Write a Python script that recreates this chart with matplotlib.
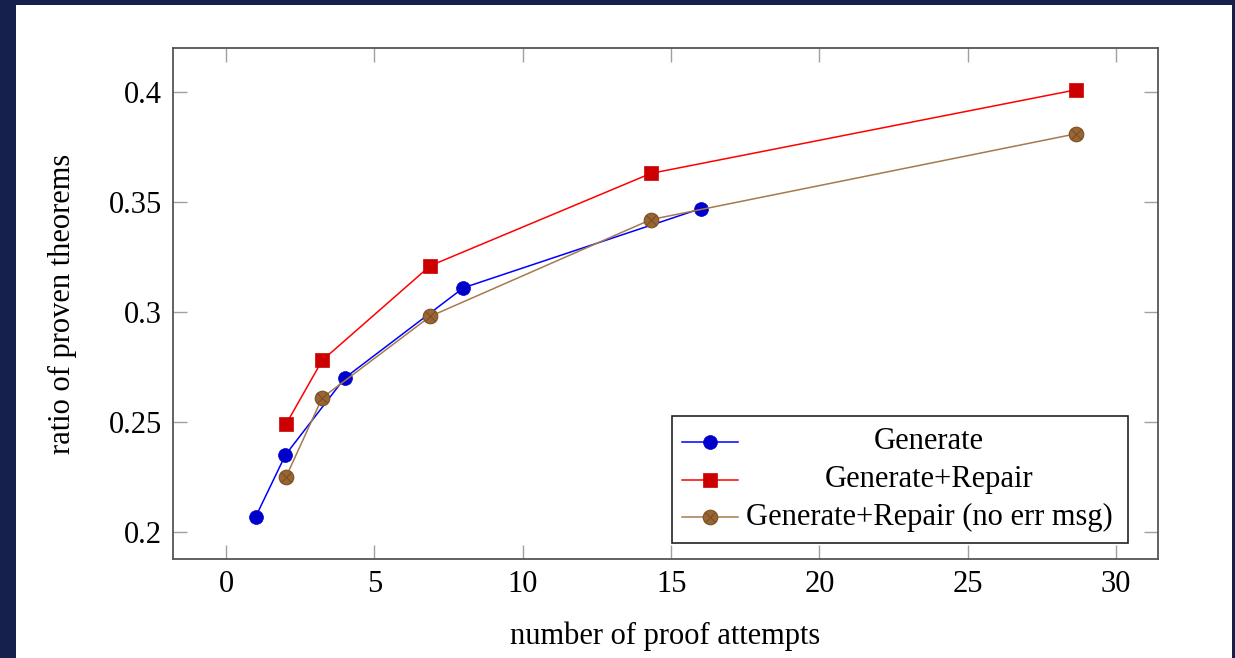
import matplotlib

matplotlib.use("Agg")
import matplotlib.pyplot as plt
from matplotlib.lines import Line2D
from matplotlib.patches import Rectangle
from matplotlib.path import Path

# --- data ---
gen_x = [1, 2, 4, 8, 16]
gen_y = [0.207, 0.235, 0.270, 0.311, 0.347]

rep_x = [2.02, 3.24, 6.88, 14.32, 28.65]
rep_y = [0.249, 0.278, 0.321, 0.363, 0.401]

noerr_x = [2.02, 3.24, 6.88, 14.32, 28.65]
noerr_y = [0.225, 0.261, 0.298, 0.342, 0.381]

labels = ["Generate", "Generate+Repair", "Generate+Repair (no err msg)"]
xticks = [0, 5, 10, 15, 20, 25, 30]
yticks = [0.2, 0.25, 0.3, 0.35, 0.4]
ytick_labels = ["0.2", "0.25", "0.3", "0.35", "0.4"]

plt.rcParams["font.family"] = ["Liberation Serif", "DejaVu Serif"]
FS = 22

# pgfplots-like colours
BLUE, BLUE_FILL = "#0000ff", "#0000cc"
RED, RED_FILL = "#ff0000", "#cc0000"
BROWN, BROWN_FILL = "#a57a4e", "#996633"

# circle with a cross inside (pgfplots "otimes*")
circle = Path.unit_circle()
d = 0.707
cross = Path([(-d, -d), (d, d), (-d, d), (d, -d)],
             [Path.MOVETO, Path.LINETO, Path.MOVETO, Path.LINETO])
otimes = Path.make_compound_path(circle, cross)

fig = plt.figure(figsize=(12.35, 6.58), dpi=100, facecolor="#16204d")
fig.patches.append(Rectangle((16 / 1235, 0), 1216 / 1235, 653 / 658,
                             transform=fig.transFigure, facecolor="white",
                             edgecolor="none", zorder=-10))

ax = fig.add_axes([173 / 1235, 99 / 658, 985 / 1235, 511 / 658])
ax.set_facecolor("white")

styles = [
    dict(color=BLUE, marker="o", markersize=10, markerfacecolor=BLUE_FILL,
         markeredgecolor=BLUE_FILL, markeredgewidth=0.5),
    dict(color=RED, marker="s", markersize=10, markerfacecolor=RED_FILL,
         markeredgecolor=RED_FILL, markeredgewidth=0.5),
    dict(color=BROWN, marker=otimes, markersize=10.5, markerfacecolor=BROWN_FILL,
         markeredgecolor="#7a4f26", markeredgewidth=0.8),
]
series = [(gen_x, gen_y), (rep_x, rep_y), (noerr_x, noerr_y)]
for (xs, ys), st in zip(series, styles):
    ax.plot(xs, ys, linewidth=1.1, zorder=3, **st)

ax.set_xlim(-1.79, 31.41)
ax.set_ylim(0.1877, 0.42)
ax.set_xticks(xticks)
ax.set_yticks(yticks)
ax.set_yticklabels(ytick_labels)
ax.tick_params(direction="in", length=10, width=1.0, color="#a0a0a0",
               top=True, right=True, labelsize=FS, pad=8)
for sp in ax.spines.values():
    sp.set_color("#555555")
    sp.set_linewidth(1.3)

ax.set_xlabel("number of proof attempts", fontsize=FS, labelpad=16)
ax.set_ylabel("ratio of proven theorems", fontsize=FS, labelpad=23)

# legend drawn pgfplots style: centred entry texts
lx0, ly0, lx1, ly1 = 0.5066, 0.0313, 0.9695, 0.2798
ax.add_patch(Rectangle((lx0, ly0), lx1 - lx0, ly1 - ly0, transform=ax.transAxes,
                       facecolor="white", edgecolor="#222222", linewidth=1.2,
                       zorder=5))
row_y = [0.2290, 0.1546, 0.0822]
for ry, lab, st in zip(row_y, labels, styles):
    ax.add_line(Line2D([0.5163, 0.5741], [ry, ry], transform=ax.transAxes,
                       linewidth=1.1, zorder=6,
                       **{k: v for k, v in st.items() if k != "marker"}))
    ax.add_line(Line2D([0.5452], [ry], transform=ax.transAxes, zorder=7,
                       linestyle="none", **st))
    ax.text(0.7675, ry, lab, transform=ax.transAxes, ha="center", va="center",
            fontsize=FS, zorder=7)

fig.savefig("out.png", dpi=100, facecolor=fig.get_facecolor())
